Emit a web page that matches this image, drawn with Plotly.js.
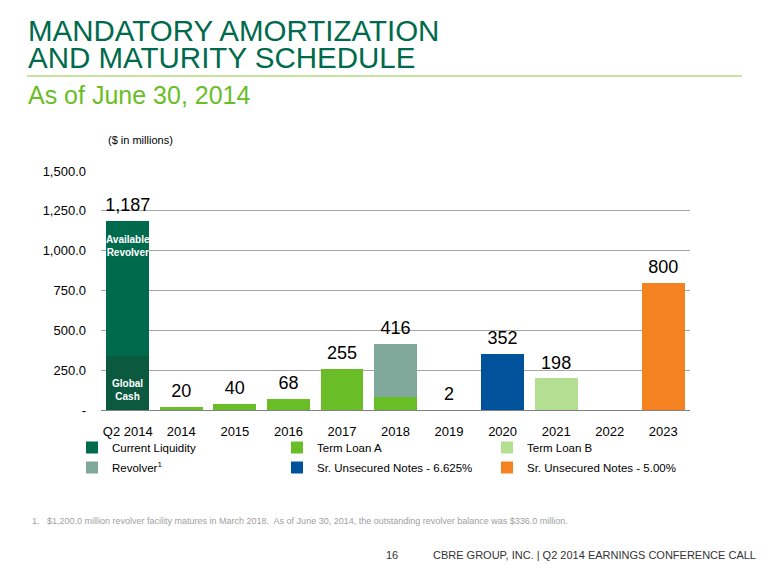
<!DOCTYPE html>
<html>
<head>
<meta charset="utf-8">
<script src="https://cdn.plot.ly/plotly-3.0.1.min.js"></script>
<style>html,body{margin:0;padding:0;background:#fff;}#chart{width:780px;height:585px;}</style>
</head>
<body>
<div id="chart"></div>
<script>
const categories = ['Q2 2014','2014','2015','2016','2017','2018','2019','2020','2021','2022','2023'];
const globalCash        = [339, null, null, null, null, null, null, null, null, null, null];
const availableRevolver = [848, null, null, null, null, null, null, null, null, null, null];
const termLoanA         = [null, 20, 40, 68, 255, 80, null, null, null, null, null];
const termLoanB         = [null, null, null, null, null, null, 2, null, 198, null, null];
const revolver          = [null, null, null, null, null, 336, null, null, null, null, null];
const notes6625         = [null, null, null, null, null, null, null, 352, null, null, null];
const notes500          = [null, null, null, null, null, null, null, null, null, null, 800];
const totals            = [1187, 20, 40, 68, 255, 416, 2, 352, 198, null, 800];
const totalLabels       = ['1,187','20','40','68','255','416','2','352','198','','800'];
const yTickVals  = [0, 250, 500, 750, 1000, 1250, 1500];
const yTickText  = ['-', '250.0', '500.0', '750.0', '1,000.0', '1,250.0', '1,500.0'];

const base = 'Liberation Sans, Arial, sans-serif';
const narrow = 'Liberation Sans Narrow, Arial Narrow, Liberation Sans, sans-serif';

const traces = [
  {type:'bar', name:'Current Liquidity', x:categories, y:globalCash, marker:{color:'#0b5a3f'}, legend:'legend', legendgroup:'cl', showlegend:false},
  {type:'bar', name:'Current Liquidity', x:categories, y:availableRevolver, marker:{color:'#006a4d'}, legend:'legend', legendgroup:'cl'},
  {type:'bar', name:'Term Loan A', x:categories, y:termLoanA, marker:{color:'#69be28'}, legend:'legend2', legendgroup:'tla'},
  {type:'bar', name:'Term Loan B', x:categories, y:termLoanB, marker:{color:'#b4df92'}, legend:'legend3', legendgroup:'tlb'},
  {type:'bar', name:'Revolver<sup>1</sup>', x:categories, y:revolver, marker:{color:'#80a99b'}, legend:'legend', legendgroup:'rev'},
  {type:'bar', name:'Sr. Unsecured Notes - 6.625%', x:categories, y:notes6625, marker:{color:'#00539b'}, legend:'legend2', legendgroup:'n6'},
  {type:'bar', name:'Sr. Unsecured Notes - 5.00%', x:categories, y:notes500, marker:{color:'#f58220'}, legend:'legend3', legendgroup:'n5'},
  {type:'scatter', mode:'markers+text', x:categories, y:totals, text:totalLabels, textposition:'top center',
   marker:{size:7, opacity:0}, textfont:{family:base, size:18, color:'#000'}, showlegend:false, hoverinfo:'skip', cliponaxis:false}
];

const L = 101, R = 690, T = 171, B = 410;
const px = v => (v - L) / (R - L);
const py = v => (B - v) / (B - T);

const legendBase = {orientation:'v', xanchor:'left', yanchor:'top', y:py(433), bgcolor:'rgba(0,0,0,0)',
  font:{family:base, size:11.5, color:'#000'}, traceorder:'grouped', tracegroupgap:1, itemwidth:30};

const layout = {
  width:780, height:585,
  margin:{l:L, r:780-R, t:T, b:585-B, pad:0},
  paper_bgcolor:'#fff', plot_bgcolor:'#fff',
  barmode:'stack', bargap:0.2,
  showlegend:true,
  font:{family:base, color:'#000'},
  xaxis:{type:'category', range:[-0.5, 10.5], tickfont:{family:base, size:13, color:'#000'}, showline:true, linecolor:'#808080', linewidth:1,
         showgrid:false, ticks:'', ticklabelstandoff:9, fixedrange:true},
  yaxis:{range:[0,1500], tickvals:yTickVals, ticktext:yTickText, tickfont:{family:base, size:13, color:'#000'},
         showgrid:true, gridcolor:'#a6a6a6', gridwidth:1, zeroline:false, showline:false, ticks:'', ticklabelstandoff:14},
  legend:Object.assign({}, legendBase, {x:px(72)}),
  legend2:Object.assign({}, legendBase, {x:px(277)}),
  legend3:Object.assign({}, legendBase, {x:px(487)}),
  shapes:[
    {type:'line', xref:'paper', yref:'paper', x0:px(27), x1:px(742), y0:py(76), y1:py(76), line:{color:'#8dc63f', width:1}}
  ],
  annotations:[
    {xref:'paper', yref:'paper', x:px(26), y:py(30), xanchor:'left', yanchor:'middle', showarrow:false,
     text:'MANDATORY AMORTIZATION', font:{family:narrow, size:29.5, color:'#006a4d'}},
    {xref:'paper', yref:'paper', x:px(26), y:py(57), xanchor:'left', yanchor:'middle', showarrow:false,
     text:'AND MATURITY SCHEDULE', font:{family:narrow, size:29.5, color:'#006a4d'}},
    {xref:'paper', yref:'paper', x:px(26), y:py(95), xanchor:'left', yanchor:'middle', showarrow:false,
     text:'As of June 30, 2014', font:{family:narrow, size:25, color:'#69be28'}},
    {xref:'paper', yref:'paper', x:px(106), y:py(140), xanchor:'left', yanchor:'middle', showarrow:false,
     text:'($ in millions)', font:{family:base, size:11, color:'#000'}},
    {xref:'x', yref:'y', x:'Q2 2014', y:1030, xanchor:'center', yanchor:'middle', showarrow:false,
     text:'<b>Available<br>Revolver</b>', font:{family:base, size:10, color:'#fff'}},
    {xref:'x', yref:'y', x:'Q2 2014', y:125, xanchor:'center', yanchor:'middle', showarrow:false,
     text:'<b>Global<br>Cash</b>', font:{family:base, size:10, color:'#fff'}},
    {xref:'paper', yref:'paper', x:px(30), y:py(521), xanchor:'left', yanchor:'middle', showarrow:false,
     text:'1.   $1,200.0 million revolver facility matures in March 2018.  As of June 30, 2014, the outstanding revolver balance was $336.0 million.',
     font:{family:base, size:9, color:'#a0a0a0'}},
    {xref:'paper', yref:'paper', x:px(392), y:py(555), xanchor:'center', yanchor:'middle', showarrow:false,
     text:'16', font:{family:narrow, size:11, color:'#333'}},
    {xref:'paper', yref:'paper', x:px(758), y:py(555), xanchor:'right', yanchor:'middle', showarrow:false,
     text:'CBRE GROUP, INC. | Q2 2014 EARNINGS CONFERENCE CALL', font:{family:narrow, size:11, color:'#333'}}
  ]
};

Plotly.newPlot('chart', traces, layout, {displayModeBar:false, staticPlot:true});
</script>
</body>
</html>
